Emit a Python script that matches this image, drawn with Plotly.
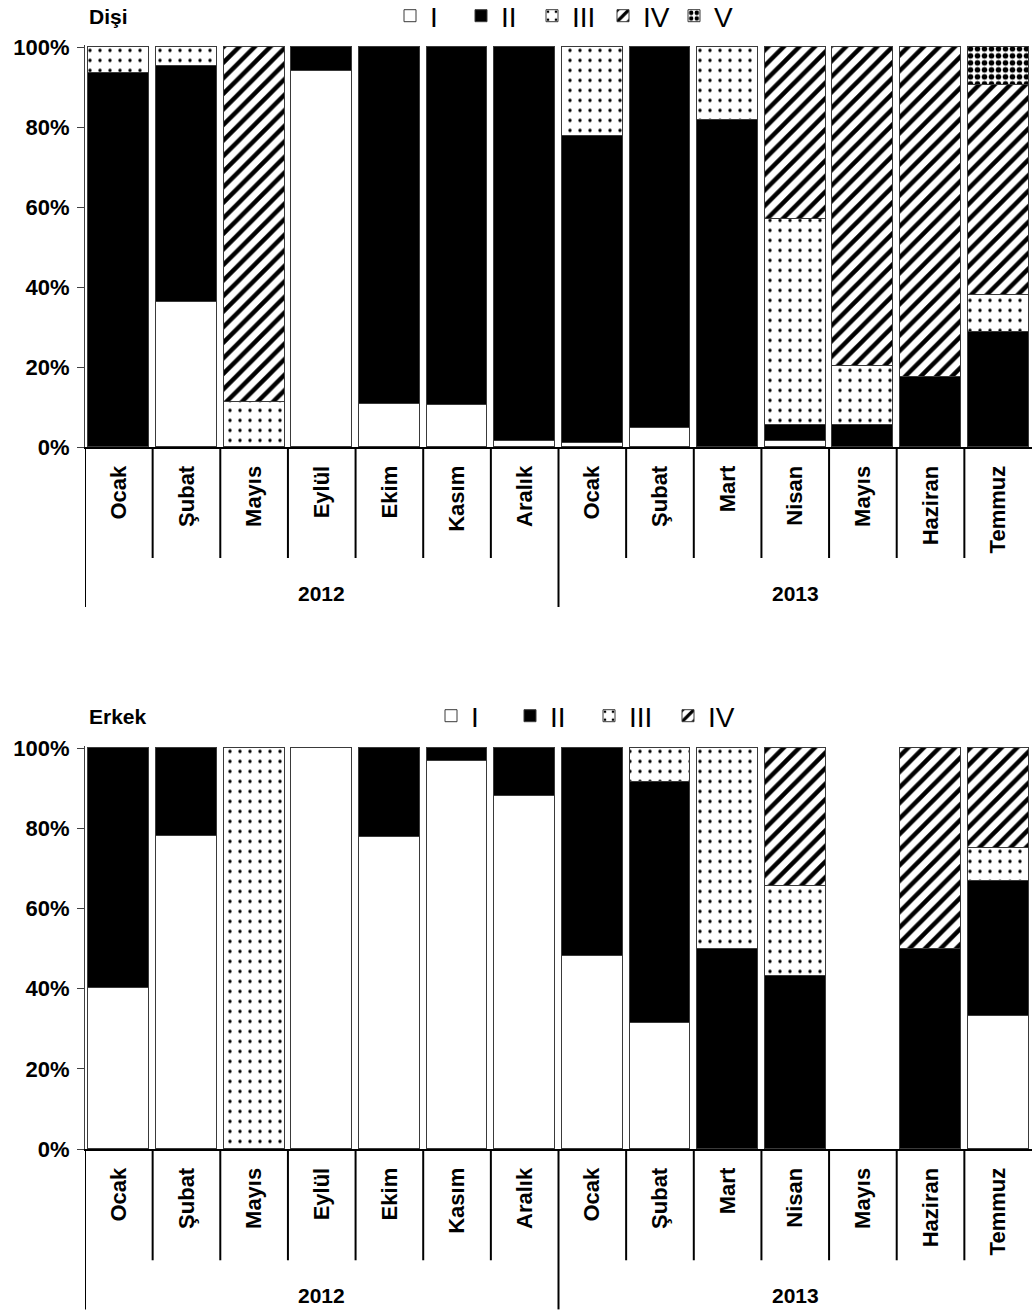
import plotly.graph_objects as go

# Gonad maturity stages by sampling month (percent of individuals)
months = ["Ocak", "Şubat", "Mayıs", "Eylül", "Ekim", "Kasım", "Aralık",
          "Ocak", "Şubat", "Mart", "Nisan", "Mayıs", "Haziran", "Temmuz"]
years = ["2012"] * 7 + ["2013"] * 7
stage_names = ["I", "II", "III", "IV", "V"]
pct_ticks = [0, 20, 40, 60, 80, 100]
pct_labels = ["0%", "20%", "40%", "60%", "80%", "100%"]

# Female (Dişi)
disi_I = [0, 36.1, 0, 93.8, 10.7, 10.3, 1.5, 1.0, 4.6, 0, 1.3, 0, 0, 0]
disi_II = [93.4, 59.0, 0, 6.2, 89.3, 89.7, 98.5, 76.6, 95.4, 81.7, 4.2, 5.5, 17.5, 28.7]
disi_III = [6.6, 4.9, 11.1, 0, 0, 0, 0, 22.4, 0, 18.3, 51.5, 14.6, 0, 9.3]
disi_IV = [0, 0, 88.9, 0, 0, 0, 0, 0, 0, 0, 43.0, 79.9, 82.5, 52.3]
disi_V = [0, 0, 0, 0, 0, 0, 0, 0, 0, 0, 0, 0, 0, 9.7]

# Male (Erkek)
erkek_I = [40, 77.9, 0, 100, 77.6, 96.6, 87.9, 48.1, 31.2, 0, 0, 0, 0, 33.0]
erkek_II = [60, 22.1, 0, 0, 22.4, 3.4, 12.1, 51.9, 60.1, 49.9, 43.0, 0, 49.9, 33.7]
erkek_III = [0, 0, 100, 0, 0, 0, 0, 0, 8.7, 50.1, 22.6, 0, 0, 8.3]
erkek_IV = [0, 0, 0, 0, 0, 0, 0, 0, 0, 0, 34.4, 0, 50.1, 25.0]

FONT = "Liberation Sans, Arial, sans-serif"
LEG_FONT = "Liberation Sans Narrow, Liberation Sans, Arial, sans-serif"
W, H = 1033, 1313

styles = {
    "I": dict(color="white"),
    "II": dict(color="black"),
    "III": dict(color="white", pattern=dict(shape=".", size=10, solidity=0.09,
                                             fgcolor="black", bgcolor="white", fillmode="replace")),
    "IV": dict(color="white", pattern=dict(shape="/", size=11, solidity=0.4,
                                            fgcolor="black", bgcolor="white", fillmode="replace")),
    "V": dict(color="white", pattern=dict(shape=".", size=7, solidity=0.5,
                                           fgcolor="black", bgcolor="white", fillmode="replace")),
}

xpos = list(range(len(months)))

fig = go.Figure()


def add_panel(series, xa, ya, legend):
    for name, vals in zip(stage_names, series):
        st = styles[name]
        marker = dict(color=st["color"], line=dict(color="#3a3a3a", width=1))
        if "pattern" in st:
            marker["pattern"] = st["pattern"]
        fig.add_trace(go.Bar(
            x=xpos, y=[v if v > 0 else None for v in vals], name=name,
            marker=marker, width=0.9, xaxis=xa, yaxis=ya, legend=legend,
            cliponaxis=False,
        ))


add_panel([disi_I, disi_II, disi_III, disi_IV, disi_V], "x", "y", "legend")
add_panel([erkek_I, erkek_II, erkek_III, erkek_IV], "x2", "y2", "legend2")

# plot area geometry (pixels); a little headroom above 100% keeps the bar outlines visible
left, right = 85, 1032
top1, bot1 = 47, 447
top2, bot2 = 748, 1149
head = 0.4  # percent of headroom
span = 400.0
pw = right - left


def py(v):
    return 1 - v / H


axis_x = dict(
    range=[-0.5, len(months) - 0.5], tickmode="array", tickvals=xpos, ticktext=months,
    tickangle=-90, ticks="", showline=True, linecolor="black", linewidth=2,
    tickfont=dict(family=FONT, size=22, color="black", weight="bold"),
    ticklabelstandoff=8, showgrid=False, zeroline=False, automargin=False,
)
axis_y = dict(
    range=[0, 100 + head], tickmode="array", tickvals=pct_ticks, ticktext=pct_labels,
    ticks="outside", ticklen=7, tickcolor="#404040", showline=True,
    linecolor="#404040", linewidth=1, showgrid=False, zeroline=False,
    ticklabelstandoff=3, automargin=False,
    tickfont=dict(family=FONT, size=22, color="black", weight="bold"),
)

extra = span * head / 100
leg_common = dict(orientation="h", xanchor="left", yanchor="middle", traceorder="normal",
                  entrywidthmode="pixels", bgcolor="rgba(0,0,0,0)",
                  font=dict(family=LEG_FONT, size=28, color="black"))

fig.update_layout(
    width=W, height=H, barmode="stack", bargap=0,
    plot_bgcolor="white", paper_bgcolor="white",
    margin=dict(l=left, r=W - right, t=0, b=0, autoexpand=False),
    xaxis=dict(axis_x, domain=[0, 1], anchor="y"),
    yaxis=dict(axis_y, domain=[py(bot1), py(top1 - extra)], anchor="x"),
    xaxis2=dict(axis_x, domain=[0, 1], anchor="y2"),
    yaxis2=dict(axis_y, domain=[py(bot2), py(top2 - extra)], anchor="x2"),
    legend=dict(leg_common, x=(390 - left) / pw, y=py(16), entrywidth=26),
    legend2=dict(leg_common, x=(431 - left) / pw, y=py(716), entrywidth=34),
    showlegend=True,
)

# panel titles
for txt, ypix in [("Dişi", 16), ("Erkek", 716)]:
    fig.add_annotation(text=txt, xref="paper", yref="paper", x=(87 - left) / pw, y=py(ypix),
                       xanchor="left", yanchor="middle", showarrow=False,
                       font=dict(family=FONT, size=21, color="black", weight="bold"))

# month / year separators and year labels below each panel
n = len(months)
year_groups = []
for i, yr in enumerate(years):
    if not year_groups or year_groups[-1][0] != yr:
        year_groups.append([yr, i, i])
    else:
        year_groups[-1][2] = i

dom = span + extra
for xa, ya in [("x", "y"), ("x2", "y2")]:
    short = -111 / dom
    long_ = -160 / dom
    for k in range(n):
        b = k - 0.5
        starts_year = any(g[1] == k for g in year_groups)
        fig.add_shape(type="line", xref=xa, yref=f"{ya} domain", x0=b, x1=b, y0=0,
                      y1=long_ if starts_year else short,
                      line=dict(color="black", width=2))
    for yr, s, e in year_groups:
        fig.add_annotation(text=yr, xref=xa, yref=f"{ya} domain", x=(s + e) / 2,
                           y=-146 / dom, showarrow=False, yanchor="middle",
                           font=dict(family=FONT, size=21, color="black", weight="bold"))

fig.write_html("out.html")
